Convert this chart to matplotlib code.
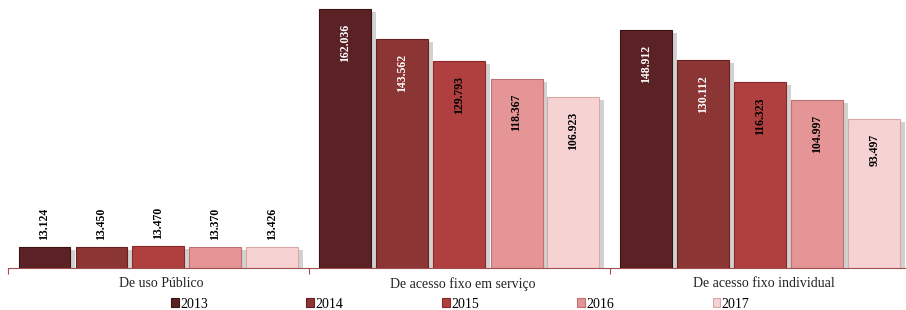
import matplotlib
matplotlib.use("Agg")
import matplotlib.pyplot as plt
from matplotlib.patches import Rectangle

categories = ["De uso Público", "De acesso fixo em serviço", "De acesso fixo individual"]
years = ["2013", "2014", "2015", "2016", "2017"]
v2013 = [13124, 162036, 148912]
v2014 = [13450, 143562, 130112]
v2015 = [13470, 129793, 116323]
v2016 = [13370, 118367, 104997]
v2017 = [13426, 106923, 93497]
series = [v2013, v2014, v2015, v2016, v2017]

colors = ["#5a2224", "#8b3535", "#b04040", "#e59595", "#f6d3d2"]
edges = ["#3a1212", "#6a2020", "#8a2828", "#c07070", "#d8a8a8"]
textcolors = ["white", "white", "black", "black", "black"]

plt.rcParams['font.family'] = ['Liberation Serif', 'DejaVu Serif']

fig = plt.figure(figsize=(9.06, 3.10), dpi=100)
ax = fig.add_axes([8/906, 42/310, 903/906, 268/310])
ax.set_xlim(-0.5, 2.5)
ax.set_ylim(0, 167700)

step = 57/301
width = 52/301
px_y = 167700/268

def fmt(v):
    return f"{v:,}".replace(",", ".")

for i, (vals, c, ec, tc, yr) in enumerate(zip(series, colors, edges, textcolors, years)):
    xs = [g + (i - 2) * step for g in range(3)]
    # shadow
    for x, v in zip(xs, vals):
        ax.add_patch(Rectangle((x - width/2 + 0.014, 0), width, v - 3*px_y,
                               facecolor="#000000", alpha=0.18, edgecolor="none", zorder=1))
    ax.bar(xs, vals, width=width, color=c, edgecolor=ec, linewidth=0.8, zorder=2, label=yr)
    for x, v in zip(xs, vals):
        if v < 30000:
            ax.text(x, v + 7*px_y, fmt(v), rotation=90, ha="center", va="bottom",
                    fontsize=8.5, fontweight="bold", color="black", zorder=3)
        else:
            ax.text(x, v - 15*px_y, fmt(v), rotation=90, ha="center", va="top",
                    fontsize=8.5, fontweight="bold", color=tc, zorder=3)

for s in ["top", "right", "left"]:
    ax.spines[s].set_visible(False)
ax.spines["bottom"].set_color("#a05050")
ax.spines["bottom"].set_linewidth(0.8)
ax.set_yticks([])
ax.set_xticks([-0.5, 0.5, 1.5, 2.5])
ax.set_xticklabels([])
ax.tick_params(axis="x", length=4, color="#a05050", width=0.8, direction="out")
for g, cat in enumerate(categories):
    ax.annotate(cat, xy=(g, 0), xytext=(3, -9), textcoords="offset pixels",
                ha="center", va="top", fontsize=10, color="#222222")

handles, labels = ax.get_legend_handles_labels()
leg = fig.legend(handles, labels, loc="center", ncol=5, frameon=False, fontsize=10,
                 handlelength=0.55, handleheight=0.55, handletextpad=0.1,
                 columnspacing=7.1, borderaxespad=0)
leg.set_bbox_to_anchor((0.508, 5/310 + 0.003), transform=fig.transFigure)

fig.savefig("out.png", dpi=100)
